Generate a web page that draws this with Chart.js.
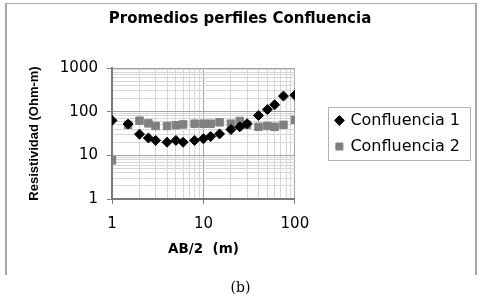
<!DOCTYPE html>
<html><head><meta charset="utf-8">
<script src="https://cdn.jsdelivr.net/npm/chart.js@4/dist/chart.umd.min.js"></script>
<style>
html,body{margin:0;padding:0;background:#fff;}
#wrap{position:relative;width:481px;height:296px;overflow:hidden;}
#c{position:absolute;left:0;top:0;}
.fl{position:absolute;background:#a6a6a6;}
#cap{position:absolute;left:0;width:481px;top:278px;text-align:center;font-family:"DejaVu Serif","Liberation Serif",serif;font-size:14px;color:#000;line-height:18px;}
</style></head><body>
<div id="wrap">
<canvas id="c" width="481" height="296"></canvas>
<div class="fl" style="left:5px;top:3px;width:2px;height:272px"></div>
<div class="fl" style="left:475px;top:3px;width:2px;height:272px"></div>
<div class="fl" style="left:5px;top:3px;width:472px;height:1px"></div>
<div id="cap">(b)</div>
</div>
<script>
const TITLE = 'Promedios perfiles Confluencia';
const X_TITLE = 'AB/2  (m)';
const Y_TITLE = 'Resistividad (Ohm-m)';
const SERIES_NAMES = ['Confluencia 1', 'Confluencia 2'];

// AB/2 (m)
const AB2 = [1, 1.5, 2, 2.5, 3, 4, 5, 6, 8, 10, 12, 15, 20, 25, 30, 40, 50, 60, 75, 100];
// Resistividad (Ohm-m)
const CONF1 = [63, 52, 30.5, 25, 22, 20, 22, 20, 22, 24, 27, 31, 39, 45, 53, 82, 112, 144, 227, 239];
const CONF2 = [7.7, 50, 62, 54, 47, 47, 49, 51, 53, 53, 53, 57, 53, 61, 50, 45, 47, 45, 50, 65];

const X_TICK_LABELS = ['1', '10', '100'];
const Y_TICK_LABELS = ['1', '10', '100', '1000'];
const X_GRID = [1,2,3,4,5,6,7,8,9,10,20,30,40,50,60,70,80,90,100];
const Y_GRID = [1,2,3,4,5,6,7,8,9,10,20,30,40,50,60,70,80,90,100,200,300,400,500,600,700,800,900,1000];

const FONT = 'DejaVu Sans';
const isMajor = (v, labels) => labels.includes(String(v));

function logAxis(grid, labels, pad, extra) {
  return Object.assign({
    type: 'logarithmic',
    afterBuildTicks: s => { s.ticks = grid.map(v => ({ value: v, major: isMajor(v, labels) })); },
    ticks: {
      autoSkip: false, maxRotation: 0, minRotation: 0, color: '#000', padding: pad,
      font: { family: FONT, size: 15 },
      callback: v => isMajor(v, labels) ? String(v) : ''
    },
    grid: {
      color: c => (c.tick && isMajor(c.tick.value, labels)) ? '#a4a4a4' : '#d6d6d6',
      lineWidth: 1,
      tickLength: 5,
      tickColor: c => (c.tick && isMajor(c.tick.value, labels)) ? '#808080' : 'rgba(0,0,0,0)'
    },
    border: { display: true, color: '#7a7a7a', width: 2 }
  }, extra);
}

const legendFrame = {
  id: 'legendFrame',
  afterDraw(chart) {
    const lg = chart.legend;
    if (!lg || !lg.legendHitBoxes || !lg.legendHitBoxes.length) return;
    const hb = lg.legendHitBoxes;
    const l = Math.min(...hb.map(h => h.left)) - 8.5;
    const r = Math.max(...hb.map(h => h.left + h.width)) + 10;
    const t = hb[0].top - 6;
    const b = hb[hb.length - 1].top + hb[hb.length - 1].height + 5;
    const ctx = chart.ctx;
    ctx.save();
    ctx.strokeStyle = '#b4b4b4';
    ctx.lineWidth = 1;
    ctx.strokeRect(Math.round(l) + 0.5, Math.round(t) + 0.5, Math.round(r - l), Math.round(b - t));
    ctx.restore();
  }
};

new Chart(document.getElementById('c'), {
  type: 'scatter',
  data: {
    datasets: [
      {
        label: SERIES_NAMES[0],
        data: AB2.map((x, i) => ({ x: x, y: CONF1[i] })),
        pointStyle: 'rectRot', pointRadius: 5, pointHoverRadius: 5,
        backgroundColor: '#000', borderColor: '#000', borderWidth: 1, showLine: false
      },
      {
        label: SERIES_NAMES[1],
        data: AB2.map((x, i) => ({ x: x, y: CONF2[i] })),
        pointStyle: 'rect', pointRadius: 5.3, pointHoverRadius: 5.3,
        backgroundColor: '#808080', borderColor: '#808080', borderWidth: 1, showLine: false
      }
    ]
  },
  options: {
    responsive: false,
    animation: false,
    devicePixelRatio: 1,
    layout: { padding: { left: 10, right: 11, top: 0, bottom: 27 } },
    scales: {
      x: logAxis(X_GRID, X_TICK_LABELS, 11, {
        position: 'bottom', min: 1, max: 100,
        title: { display: true, text: X_TITLE, color: '#000', font: { family: FONT, size: 13.5, weight: 'bold' }, padding: { top: 0, bottom: 11 } },
        afterFit: s => { s.height = 70; }
      }),
      y: logAxis(Y_GRID, Y_TICK_LABELS, 9, {
        position: 'left', min: 1, max: 1000,
        title: { display: true, text: Y_TITLE, color: '#000', font: { family: 'Liberation Sans', size: 13, weight: 'bold' }, padding: { top: 17, bottom: 0 } },
        afterFit: s => { s.width = 102; }
      }),
      spacer: {
        type: 'linear', position: 'right', display: true,
        grid: { display: false }, border: { display: false }, ticks: { display: false },
        afterFit: s => { s.width = 31.5; }
      }
    },
    plugins: {
      title: { display: true, text: TITLE, color: '#000', font: { family: FONT, size: 15, weight: 'bold' }, padding: { top: 10, bottom: 40 } },
      legend: {
        display: true, position: 'right', align: 'center', fullSize: false, maxWidth: 220,
        labels: { usePointStyle: true, boxWidth: 6, boxHeight: 7, padding: 10, color: '#000', font: { family: FONT, size: 16 } }
      },
      tooltip: { enabled: false }
    }
  },
  plugins: [legendFrame]
});
</script>
</body></html>
